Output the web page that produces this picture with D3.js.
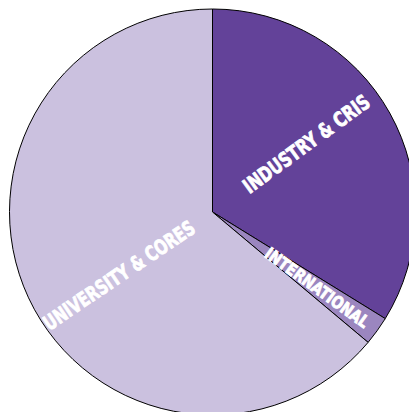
<!DOCTYPE html>
<html>

<head>
    <meta charset="utf-8">
    <title>Funding Pie</title>
    <script src="https://d3js.org/d3.v7.min.js"></script>
    <style>
        body {
            margin: 0;
            background: #ffffff;
        }
        .slice-label {
            font-family: "Liberation Sans Narrow", "DejaVu Sans Condensed", sans-serif;
            font-weight: bold;
            fill: #ffffff;
            stroke: #ffffff;
            stroke-width: 0.8;
        }
    </style>
</head>

<body>
    <svg width="409" height="412"></svg>
    <script>
        // Data (percent of total)
        const categories = ["INDUSTRY & CRIS", "INTERNATIONAL", "UNIVERSITY & CORES"];
        const shares = [33.8, 2.3, 63.9];
        const colors = ["#634299", "#9b86bf", "#cbc1df"];

        const svg = d3.select("svg");
        const cx = 212.5, cy = 212, radius = 203;

        const pie = d3.pie().sort(null).value(d => d.value);
        const arcs = pie(categories.map((c, i) => ({ name: c, value: shares[i] })));
        const arc = d3.arc().innerRadius(0).outerRadius(radius);
        const color = d3.scaleOrdinal().domain(categories).range(colors);

        const g = svg.append("g").attr("transform", `translate(${cx},${cy})`);

        g.selectAll("path.slice")
            .data(arcs)
            .join("path")
            .attr("class", "slice")
            .attr("d", arc)
            .attr("fill", d => color(d.data.name))
            .attr("stroke", "#000")
            .attr("stroke-width", 1);

        // label placement: angle shift (deg), radius, size, text length
        const labelStyle = {
            "INDUSTRY & CRIS": { shift: -6.9, r: 116, size: 20.5, len: 151 },
            "INTERNATIONAL": { shift: 0, r: 129, size: 17, len: 124 },
            "UNIVERSITY & CORES": { shift: -9, r: 113, size: 20.5, len: 178 }
        };

        // labels run along the radius of their slice
        g.selectAll("text.slice-label")
            .data(arcs)
            .join("text")
            .attr("class", "slice-label")
            .attr("text-anchor", "middle")
            .attr("dy", "0.36em")
            .attr("font-size", d => labelStyle[d.data.name].size)
            .attr("textLength", d => labelStyle[d.data.name].len)
            .attr("lengthAdjust", "spacingAndGlyphs")
            .attr("transform", d => {
                const s = labelStyle[d.data.name];
                const a = (d.startAngle + d.endAngle) / 2 * 180 / Math.PI + s.shift;
                const rad = a * Math.PI / 180;
                const x = s.r * Math.sin(rad), y = -s.r * Math.cos(rad);
                let rot = a - 90;
                if (rot > 90) rot -= 180;
                if (rot < -90) rot += 180;
                return `translate(${x},${y}) rotate(${rot})`;
            })
            .text(d => d.data.name);
    </script>
</body>

</html>
